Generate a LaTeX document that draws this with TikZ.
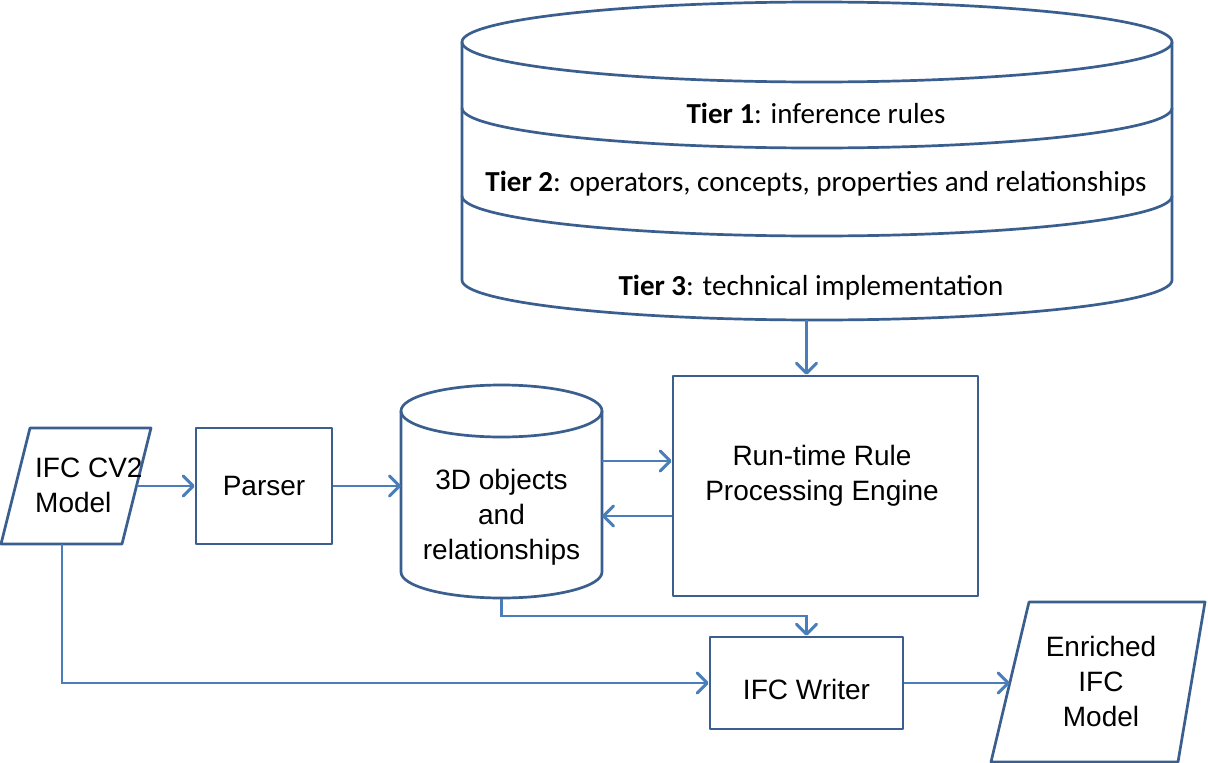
\documentclass[tikz,border=0pt]{standalone}
\usepackage{fontspec}
\setmainfont{Liberation Sans}
\newfontfamily\calib{Carlito}
\usetikzlibrary{arrows.meta,calc}
\definecolor{shpc}{HTML}{3A5F8F}
\definecolor{arrc}{HTML}{4A7EBB}
\begin{document}
\begin{tikzpicture}[x=1pt,y=1pt,
  shp/.style={draw=shpc,line width=2.7pt,line join=round},
  conn/.style={draw=arrc,line width=2.2pt,-{Straight Barb[length=10pt,width=20pt,line width=3pt,round]}},
  txt/.style={font=\fontsize{28}{35}\selectfont,text=black},
  tier/.style={font=\calib\fontsize{29}{34}\selectfont,text=black,inner sep=0pt},
  ghost/.style={inner sep=0pt,outer sep=0pt}]
\fill[white] (0,0) rectangle (1208,-763);
\useasboundingbox (0,0) rectangle (1208,-763);
% top cylinder (rules)
\draw[shp] (462,-42) -- (462,-280) arc[start angle=180,end angle=360,x radius=355,y radius=40] -- (1172,-42);
\draw[shp] (817,-42) ellipse [x radius=355,y radius=40];
\draw[shp] (462,-108) arc[start angle=180,end angle=360,x radius=355,y radius=40];
\draw[shp] (462,-196) arc[start angle=180,end angle=360,x radius=355,y radius=40];
\node[ghost,minimum width=710pt,minimum height=318pt] (rules) at (817,-161) {};
\node[tier] (t1) at (816,-113) {\textbf{Tier 1}: inference rules};
\node[tier] (t2) at (816,-184) {\textbf{Tier 2}: operators, concepts, properties and relationships};
\node[tier] (t3) at (811,-288) {\textbf{Tier 3}: technical implementation};
% middle cylinder
\draw[shp] (401,-411) -- (401,-572) arc[start angle=180,end angle=360,x radius=100.5,y radius=26] -- (602,-411);
\draw[shp] (501.5,-411) ellipse [x radius=100.5,y radius=26];
\node[ghost,minimum width=201pt,minimum height=214pt] (db) at (501.5,-492) {};
\node[txt,align=center] (dbtext) at (501.5,-517) {3D objects\\and\\relationships};
% engine
\node[shp,minimum width=305pt,minimum height=220pt] (engine) at (825.5,-486) {};
\node[txt,align=center] (engtext) at (822,-476) {Run-time Rule\\Processing Engine};
% parser
\node[shp,txt,minimum width=136pt,minimum height=116pt] (parser) at (264,-486) {Parser};
% writer
\node[shp,txt,minimum width=193pt,minimum height=92pt,text height=34pt] (writer) at (806.5,-683) {IFC Writer};
% input parallelogram
\draw[shp] (30,-428) -- (151,-428) -- (122,-544) -- (1,-544) -- cycle;
\coordinate (in1r) at (136.5,-486);
\coordinate (in1b) at (62,-544);
\node[txt,align=left,anchor=west,inner sep=0pt] (in1text) at (35,-485.5) {IFC CV2\\Model};
% output parallelogram
\draw[shp] (1029,-602) -- (1205,-602) -- (1178,-762) -- (991,-762) -- cycle;
\coordinate (outl) at (1009.8,-683);
\node[txt,align=center] (outtext) at (1101,-681) {Enriched\\IFC\\Model};
% connectors
\draw[conn] (in1r) -- (in1r -| parser.west);
\draw[conn] (parser.east) -- (parser.east -| db.west);
\draw[conn] ([yshift=25pt]engine.west -| db.east) -- ([yshift=25pt]engine.west);
\draw[conn] ([yshift=-30pt]engine.west) -- ([yshift=-30pt]engine.west -| db.east);
\draw[conn] (rules.south -| writer.north) -- (engine.north -| writer.north);
\draw[conn] (db.south) -- ++(0,-17) -| (writer.north);
\draw[conn] (in1b) |- (writer.west);
\draw[conn] (writer.east) -- (outl);
\end{tikzpicture}
\end{document}
